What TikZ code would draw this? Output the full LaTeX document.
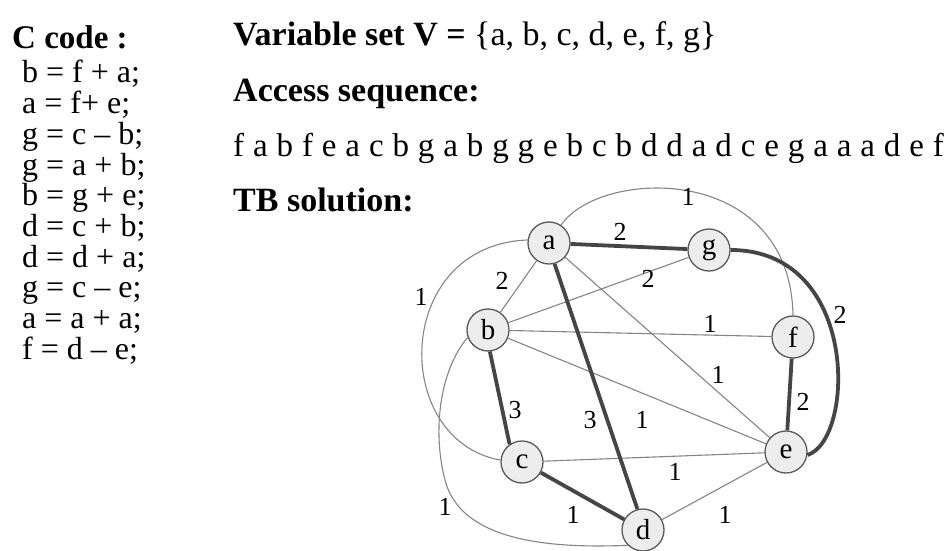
\documentclass[tikz,border=0pt]{standalone}
\usepackage{fontspec}
\setmainfont{Liberation Serif}
\definecolor{nodefill}{HTML}{EDEDED}
\definecolor{nodeline}{HTML}{5A5A5A}
\definecolor{lightline}{HTML}{858585}
\definecolor{heavyline}{HTML}{454545}
\begin{document}
\begin{tikzpicture}[x=1pt,y=-1pt,
  vnode/.style={circle, draw=nodeline, fill=nodefill, line width=1.3pt, minimum size=42pt, inner sep=0pt, font=\fontsize{29}{29}\selectfont},
  lightedge/.style={draw=lightline, line width=1.1pt},
  heavyedge/.style={draw=heavyline, line width=3.8pt},
  lbl/.style={inner sep=0pt, font=\fontsize{26}{26}\selectfont},
  txt/.style={anchor=base west, inner sep=0pt, font=\fontsize{32}{32}\selectfont},
  hdr/.style={anchor=base west, inner sep=0pt, font=\fontsize{34}{34}\selectfont\bfseries}]
\useasboundingbox[fill=white] (0,0) rectangle (951,551);

% left column
\node[hdr, font=\fontsize{33}{33}\selectfont\bfseries] (ccode) at (12,49) {C code :};
\node[txt] (l1) at (22,83) {b = f + a;};
\node[txt] (l2) at (22,113.7) {a = f+ e;};
\node[txt] (l3) at (22,144.4) {g = c – b;};
\node[txt] (l4) at (22,175.1) {g = a + b;};
\node[txt] (l5) at (22,205.8) {b = g + e;};
\node[txt] (l6) at (22,236.5) {d = c + b;};
\node[txt] (l7) at (22,267.2) {d = d + a;};
\node[txt] (l8) at (22,297.9) {g = c – e;};
\node[txt] (l9) at (22,328.6) {a = a + a;};
\node[txt] (l10) at (22,359.3) {f = d – e;};

% right column
\node[txt, font=\fontsize{34}{34}\selectfont] (vset) at (233,46) {\textbf{Variable set V =} \{a, b, c, d, e, f, g\}};
\node[hdr] (acc) at (233,101) {Access sequence:};
\node[txt, font=\fontsize{33}{33}\selectfont] (seq) at (233,156) {\spaceskip=8.9pt f a b f e a c b g a b g g e b c b d d a d c e g a a a d e f};
\node[hdr] (tb) at (233,211) {TB solution:};

% graph nodes
\node[vnode] (a) at (549,243) {a};
\node[vnode] (g) at (709,250) {g};
\node[vnode] (b) at (488,330) {b};
\node[vnode] (f) at (793,337) {f};
\node[vnode] (c) at (522,462) {c};
\node[vnode] (e) at (786,452) {e};
\node[vnode] (d) at (643,530) {d};

% light edges
\draw[lightedge] (a.56) .. controls (600,168) and (790,162) .. (f.north);
\draw[lightedge] (a.172) .. controls (393,245) and (390,440) .. (c.175);
\draw[lightedge] (b.200) .. controls (440,370) and (432,430) .. (445,480) .. controls (458,530) and (520,550) .. (d.225);
\draw[lightedge] (a) -- (b);
\draw[lightedge] (a) -- (e);
\draw[lightedge] (b) -- (g);
\draw[lightedge] (b) -- (f);
\draw[lightedge] (b) -- (e);
\draw[lightedge] (c) -- (e);
\draw[lightedge] (d) -- (e);

% heavy edges
\draw[heavyedge] (a) -- (g);
\draw[heavyedge] (a.285) -- (d.105);
\draw[heavyedge] (b.275) -- (c.125);
\draw[heavyedge] (c) -- (d);
\draw[heavyedge] (f) -- (e);
\draw[heavyedge] (g.0) .. controls (860,250) and (855,440) .. (e.-8);

% edge labels
\node[lbl] (w1) at (688,197) {1};
\node[lbl] (w2) at (620,232) {2};
\node[lbl] (w3) at (421,297) {1};
\node[lbl] (w4) at (502,281) {2};
\node[lbl] (w5) at (648,279) {2};
\node[lbl] (w6) at (840,315) {2};
\node[lbl] (w7) at (710,324) {1};
\node[lbl] (w8) at (718,375) {1};
\node[lbl] (w9) at (803,402) {2};
\node[lbl] (w10) at (515,410) {3};
\node[lbl] (w11) at (590,420) {3};
\node[lbl] (w12) at (642,420) {1};
\node[lbl] (w13) at (675,472) {1};
\node[lbl] (w14) at (445,507) {1};
\node[lbl] (w15) at (573,515) {1};
\node[lbl] (w16) at (725,515) {1};
\end{tikzpicture}
\end{document}
